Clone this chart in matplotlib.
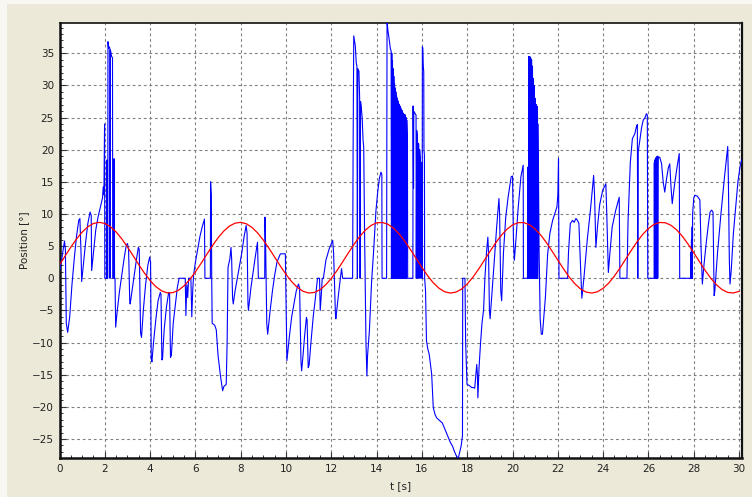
import numpy as np
import matplotlib
matplotlib.use("Agg")
import matplotlib.pyplot as plt
from matplotlib.patches import Rectangle

# reference trajectory, sampled every 0.25 s
ref_t = np.arange(0, 30.001, 0.25)
ref_deg = [2.09, 3.48, 4.84, 6.11, 7.18, 8.01, 8.52, 8.70, 8.53, 8.01,
           7.20, 6.13, 4.87, 3.51, 2.12, 0.81, -0.36, -1.29, -1.94, -2.27,
           -2.24, -1.87, -1.17, -0.20, 0.99, 2.32, 3.71, 5.06, 6.30, 7.33,
           8.11, 8.57, 8.70, 8.47, 7.90, 7.04, 5.93, 4.65, 3.28, 1.90,
           0.60, -0.53, -1.42, -2.02, -2.29, -2.21, -1.78, -1.03, -0.02, 1.20,
           2.55, 3.93, 5.27, 6.48, 7.48, 8.21, 8.62, 8.68, 8.40, 7.78,
           6.87, 5.73, 4.43, 3.05, 1.68, 0.40, -0.70, -1.54, -2.09, -2.30,
           -2.16, -1.68, -0.89, 0.16, 1.41, 2.77, 4.16, 5.48, 6.66, 7.62,
           8.30, 8.65, 8.66, 8.32, 7.65, 6.70, 5.52, 4.20, 2.82, 1.46,
           0.20, -0.85, -1.66, -2.15, -2.30, -2.10, -1.56, -0.73, 0.36, 1.63,
           3.00, 4.38, 5.69, 6.84, 7.75, 8.38, 8.68, 8.63, 8.23, 7.51,
           6.52, 5.31, 3.98, 2.59, 1.24, 0.01, -1.01, -1.76, -2.20, -2.29,
           -2.03]

# measured position (t [s], deg)
meas_a = [
    (0.00, 1.0), (0.10, 3.0), (0.22, 5.8), (0.26, 4.5), (0.30, -7.0), (0.36, -8.4),
    (0.45, -6.0), (0.55, -1.0), (0.65, 3.0), (0.75, 6.5), (0.85, 9.0), (0.90, 9.3),
    (0.95, 4.0), (0.98, -0.5), (1.05, 2.0), (1.15, 5.5), (1.25, 8.5), (1.35, 10.3),
    (1.40, 9.8), (1.42, 1.2), (1.50, 4.0), (1.60, 7.5), (1.70, 9.5), (1.80, 11.0),
    (1.90, 12.5), (1.93, 14.2), (1.96, 13.0), (1.99, 24.0), (2.00, 0), (2.08, 0),
    (2.09, 18.4), (2.10, 0), (2.13, 0), (2.14, 36.8), (2.17, 35.8), (2.20, 36.0),
    (2.22, 35.8), (2.23, 0), (2.25, 35.5), (2.30, 34.5), (2.34, 34.3), (2.35, 0),
    (2.40, 0), (2.41, 18.6), (2.43, 0), (2.45, 0), (2.48, -7.6), (2.55, -5.0),
    (2.65, -2.0), (2.75, 0.5), (2.85, 3.0), (2.95, 5.2), (3.00, 5.4), (3.05, 4.5),
    (3.10, -3.5), (3.12, -4.0), (3.20, -2.0), (3.30, 0.5), (3.40, 3.0), (3.48, 4.8),
    (3.52, 4.5), (3.58, -8.5), (3.62, -9.2), (3.70, -5.0), (3.80, -1.0), (3.90, 2.0),
    (3.98, 3.3), (4.02, 2.5), (4.05, -12.5), (4.08, -13.0), (4.15, -10.0), (4.25, -6.5),
    (4.35, -3.5), (4.45, -2.2), (4.48, -2.5), (4.52, -12.7), (4.55, -12.5), (4.62, -8.0),
    (4.72, -4.5), (4.82, -2.2), (4.86, -2.3), (4.90, -12.3), (4.94, -12.0), (5.02, -7.0),
    (5.12, -4.0), (5.20, -1.5), (5.28, 0), (5.55, 0), (5.58, -5.8), (5.62, -1.0),
    (5.66, -3.0), (5.70, 0), (5.80, 0), (5.84, -6.0), (5.88, -2.0), (5.92, 0.5),
    (6.00, 2.5), (6.10, 4.5), (6.20, 6.5), (6.30, 8.0), (6.40, 9.2), (6.42, 0),
    (6.66, 0), (6.67, 15.0), (6.70, 13.0), (6.72, 0), (6.74, -7.0), (6.85, -7.3),
    (6.92, -8.0), (7.00, -12.0), (7.10, -15.0), (7.20, -17.5), (7.26, -16.8), (7.36, -16.5),
    (7.40, -10.0), (7.44, 1.7), (7.52, 3.0), (7.57, 4.8), (7.60, 3.0), (7.64, -3.0),
    (7.67, -4.0), (7.75, -2.0), (7.85, 0), (7.95, 2.0), (8.05, 4.0), (8.15, 6.5),
    (8.24, 8.2), (8.28, 7.0), (8.32, -4.0), (8.34, -5.0), (8.45, -1.5), (8.55, 1.0),
    (8.65, 3.5), (8.74, 5.6), (8.78, 0), (9.06, 0), (9.07, 9.5), (9.10, 5.0),
    (9.15, -7.0), (9.19, -8.7), (9.30, -5.0), (9.40, -2.0), (9.50, 0.5), (9.60, 2.5),
    (9.75, 3.8), (9.97, 3.8),
]

meas_b = [
    (10.04, -12.8), (10.15, -9.0), (10.25, -6.0), (10.35, -4.0), (10.45, -2.0), (10.55, -0.9),
    (10.60, -1.5), (10.66, -13.0), (10.69, -14.4), (10.75, -12.0), (10.82, -9.0), (10.90, -6.1),
    (10.93, -6.5), (10.98, -13.9), (11.02, -13.5), (11.10, -10.0), (11.20, -6.0), (11.30, -3.0),
    (11.39, 0), (11.48, 0), (11.51, -5.0), (11.55, -3.0), (11.60, 0), (11.65, 0),
    (11.76, 2.8), (11.90, 4.5), (12.06, 5.9), (12.10, 4.0), (12.18, -5.5), (12.20, -6.3),
    (12.30, -3.0), (12.45, 1.5), (12.50, 0), (12.94, 0), (12.96, 18.9), (12.99, 37.7),
    (13.06, 36.1), (13.10, 33.5), (13.13, 33.0), (13.15, 0), (13.17, 32.6), (13.22, 32.2),
    (13.25, 28.0), (13.27, 0), (13.29, 27.5), (13.31, 27.0), (13.36, 25.1), (13.40, 21.5),
    (13.43, 20.4), (13.45, 14.0), (13.47, 6.4), (13.53, -10.0), (13.57, -15.2), (13.60, -12.0),
    (13.68, -8.2), (13.78, -0.4), (13.86, 3.8), (13.97, 10.5), (14.05, 13.5), (14.12, 15.5),
    (14.19, 16.5), (14.23, 16.2), (14.24, 0), (14.44, 0), (14.46, 40.0), (14.50, 38.5),
    (14.56, 37.0), (14.61, 35.6),
]

# fast switching between reading and dropout, 14.6 - 15.4 s
burst_1 = [
    (14.640, 35.4), (14.655, 0), (14.670, 35.0), (14.685, 0), (14.700, 33.8), (14.715, 0),
    (14.730, 32.6), (14.745, 0), (14.760, 31.4), (14.775, 0), (14.790, 30.3), (14.805, 0),
    (14.820, 29.6), (14.835, 0), (14.850, 29.0), (14.865, 0), (14.880, 28.4), (14.895, 0),
    (14.910, 28.0), (14.925, 0), (14.940, 27.6), (14.955, 0), (14.970, 27.2), (14.985, 0),
    (15.000, 27.0), (15.015, 0), (15.030, 26.8), (15.045, 0), (15.060, 26.5), (15.075, 0),
    (15.090, 26.3), (15.105, 0), (15.120, 26.1), (15.135, 0), (15.150, 25.8), (15.165, 0),
    (15.180, 25.6), (15.195, 0), (15.210, 25.5), (15.225, 0), (15.240, 25.4), (15.255, 0),
    (15.270, 25.4), (15.285, 0), (15.300, 25.0), (15.315, 0), (15.330, 24.6), (15.36, 21.0),
    (15.37, 0),
]

meas_c = [
    (15.60, 0), (15.61, 26.8), (15.63, 14.0), (15.64, 26.0), (15.70, 25.6), (15.74, 25.4),
    (15.75, 0), (15.77, 23.0), (15.80, 22.0), (15.82, 0), (15.84, 21.0), (15.86, 20.9),
    (15.88, 0), (15.90, 20.0), (15.93, 18.5), (15.95, 0), (15.97, 18.0), (15.99, 17.8),
    (16.01, 0), (16.02, 36.0), (16.04, 35.8), (16.06, 33.0), (16.08, 32.1), (16.09, 20.0),
    (16.11, 19.1), (16.12, 0), (16.16, -2.0), (16.20, -9.7), (16.26, -11.0), (16.32, -11.8),
    (16.43, -14.9), (16.50, -20.1), (16.58, -21.2), (16.65, -21.7), (16.80, -22.2), (16.90, -22.5),
    (17.02, -23.5), (17.10, -24.2), (17.17, -24.8), (17.25, -25.5), (17.35, -26.1), (17.42, -26.8),
    (17.49, -27.4), (17.55, -27.8), (17.61, -27.9), (17.67, -27.0), (17.73, -26.1), (17.79, -24.5),
    (17.80, 0), (17.90, 0), (17.93, -10.0), (17.99, -16.5), (18.10, -16.7), (18.20, -17.0),
    (18.27, -17.0), (18.33, -17.1), (18.38, -15.0), (18.42, -13.4), (18.45, -15.0), (18.47, -18.6),
    (18.52, -14.0), (18.58, -10.5), (18.65, -7.0), (18.72, -5.0), (18.78, 0), (18.85, 4.0),
    (18.91, 6.4), (18.94, 4.0), (18.98, -5.0), (19.01, -6.3), (19.10, -2.0), (19.20, 3.0),
    (19.30, 8.0), (19.40, 12.4), (19.43, 10.0), (19.48, -2.0), (19.52, -3.5), (19.60, 4.0),
    (19.70, 9.5), (19.80, 12.5), (19.94, 15.8), (20.00, 15.9), (20.04, 6.0), (20.08, 2.8),
    (20.15, 6.0), (20.25, 11.0), (20.37, 15.8), (20.47, 17.6), (20.48, 0), (20.66, 0),
]

# second burst, 20.7 - 21.2 s
burst_2 = [
    (20.68, 17.3), (20.69, 0), (20.70, 17.3), (20.71, 0), (20.72, 34.5), (20.73, 0),
    (20.74, 17.3), (20.75, 0), (20.76, 34.5), (20.77, 0), (20.78, 17.3), (20.79, 0),
    (20.80, 34.3), (20.81, 0), (20.82, 17.3), (20.83, 0), (20.84, 34.0), (20.85, 0),
    (20.86, 17.3), (20.87, 0), (20.88, 33.0), (20.89, 0), (20.90, 17.3), (20.91, 0),
    (20.92, 31.1), (20.93, 0), (20.94, 17.3), (20.95, 0), (20.96, 30.0), (20.97, 0),
    (20.98, 17.3), (20.99, 0), (21.00, 28.0), (21.01, 0), (21.02, 17.3), (21.03, 0),
    (21.05, 27.0), (21.06, 0), (21.07, 17.0), (21.08, 0), (21.10, 26.7), (21.11, 0),
    (21.13, 24.0), (21.15, 14.2), (21.17, 5.0), (21.19, 0),
]

meas_d = [
    (21.22, -6.3), (21.27, -8.7), (21.32, -8.7), (21.36, -7.0), (21.45, -3.0), (21.55, 3.8),
    (21.65, 7.0), (21.77, 9.0), (21.96, 11.1), (22.00, 13.0), (22.03, 18.6), (22.05, 0),
    (22.43, 0), (22.47, 4.0), (22.55, 8.5), (22.65, 9.0), (22.72, 8.7), (22.80, 9.3),
    (22.87, 9.0), (22.93, 8.5), (23.00, 2.0), (23.06, -3.1), (23.15, 0), (23.30, 6.0),
    (23.45, 11.0), (23.58, 16.0), (23.62, 13.0), (23.68, 4.8), (23.75, 8.0), (23.85, 11.5),
    (23.98, 13.7), (24.12, 14.7), (24.16, 10.0), (24.23, 0.9), (24.30, 4.0), (24.40, 8.0),
    (24.55, 10.5), (24.71, 12.6), (24.74, 0), (25.05, 0), (25.10, 9.0), (25.20, 18.0),
    (25.29, 21.7), (25.40, 22.5), (25.47, 23.6), (25.51, 23.9), (25.53, 0), (25.55, 19.7),
    (25.62, 21.5), (25.70, 23.5), (25.77, 24.6), (25.85, 25.0), (25.91, 25.6), (25.95, 25.4),
    (25.97, 0), (26.25, 0), (26.26, 18.0), (26.27, 0), (26.28, 18.4), (26.29, 0),
    (26.31, 18.6), (26.32, 0), (26.34, 18.8), (26.35, 0), (26.37, 18.9), (26.38, 0),
    (26.40, 19.0), (26.41, 0), (26.43, 18.9), (26.50, 18.8), (26.58, 17.8), (26.65, 15.0),
    (26.72, 13.4), (26.80, 15.5), (26.88, 17.2), (26.94, 17.8), (27.00, 14.0), (27.05, 11.6),
    (27.15, 14.5), (27.25, 17.0), (27.36, 19.4), (27.38, 0), (27.86, 0), (27.87, 4.0),
    (27.88, 0), (27.90, 6.0), (27.91, 0), (27.93, 8.0), (27.94, 0), (27.95, 10.0),
    (28.00, 12.5), (28.05, 12.9), (28.15, 12.8), (28.27, 12.2), (28.32, 5.0), (28.38, -0.9),
    (28.45, 2.0), (28.55, 5.5), (28.65, 8.5), (28.72, 10.3), (28.79, 10.6), (28.85, 10.3),
    (28.90, -2.7), (28.93, -2.0), (29.05, 4.0), (29.20, 10.0), (29.35, 15.5), (29.50, 20.5),
    (29.53, 15.0), (29.57, 3.0), (29.60, -0.9), (29.65, 1.0), (29.75, 7.0), (29.85, 11.0),
    (29.95, 15.0), (30.05, 17.5), (30.11, 18.4),
]

meas = np.array(meas_a + meas_b + burst_1 + meas_c + burst_2 + meas_d)

bg = '#ECE9D8'
fig = plt.figure(figsize=(7.52, 4.97), dpi=100, facecolor=bg)
# light bevel along the top and left edge of the panel
fig.patches.append(Rectangle((0, 1 - 4 / 497), 1, 4 / 497, transform=fig.transFigure,
                             facecolor='#F8F7F2', edgecolor='none'))
fig.patches.append(Rectangle((0, 0), 7 / 752, 1, transform=fig.transFigure,
                             facecolor='#F8F7F2', edgecolor='none'))

ax = fig.add_axes([59.5 / 752, 1 - 458.3 / 497, (742 - 59.5) / 752, (458.3 - 22.7) / 497])
ax.set_facecolor('white')

ax.plot(meas[:, 0], meas[:, 1], color='#0000FF', lw=0.8, zorder=3)
ax.plot(ref_t, ref_deg, color='#FF0000', lw=0.9, zorder=4)

ax.set_xlim(0, 30.13)
ax.set_ylim(-28.0, 39.75)
ax.set_xticks(np.arange(0, 31, 2))
ax.set_yticks(np.arange(-25, 36, 5))
ax.set_xticks(np.arange(0, 30.1, 0.5), minor=True)
ax.set_yticks(np.arange(-27, 39.5, 1), minor=True)

ax.grid(True, which='major', color='#808080', lw=0.8, linestyle=(0, (2.5, 2.5)))
ax.tick_params(which='major', direction='in', length=4, width=0.8, color='#333333',
               labelsize=7.5, labelcolor='#222222', pad=4)
ax.tick_params(which='minor', direction='in', length=2.2, width=0.7, color='#333333')

for side, lw in [('left', 1.8), ('bottom', 1.8), ('top', 1.2), ('right', 1.6)]:
    ax.spines[side].set_linewidth(lw)
    ax.spines[side].set_color('#111111')

ax.set_xlabel('t [s]', fontsize=7.5, color='#222222', labelpad=5)
ax.set_ylabel('Position [°]', fontsize=7.5, color='#222222', labelpad=2)

fig.savefig('out.png', dpi=100, facecolor=bg)
